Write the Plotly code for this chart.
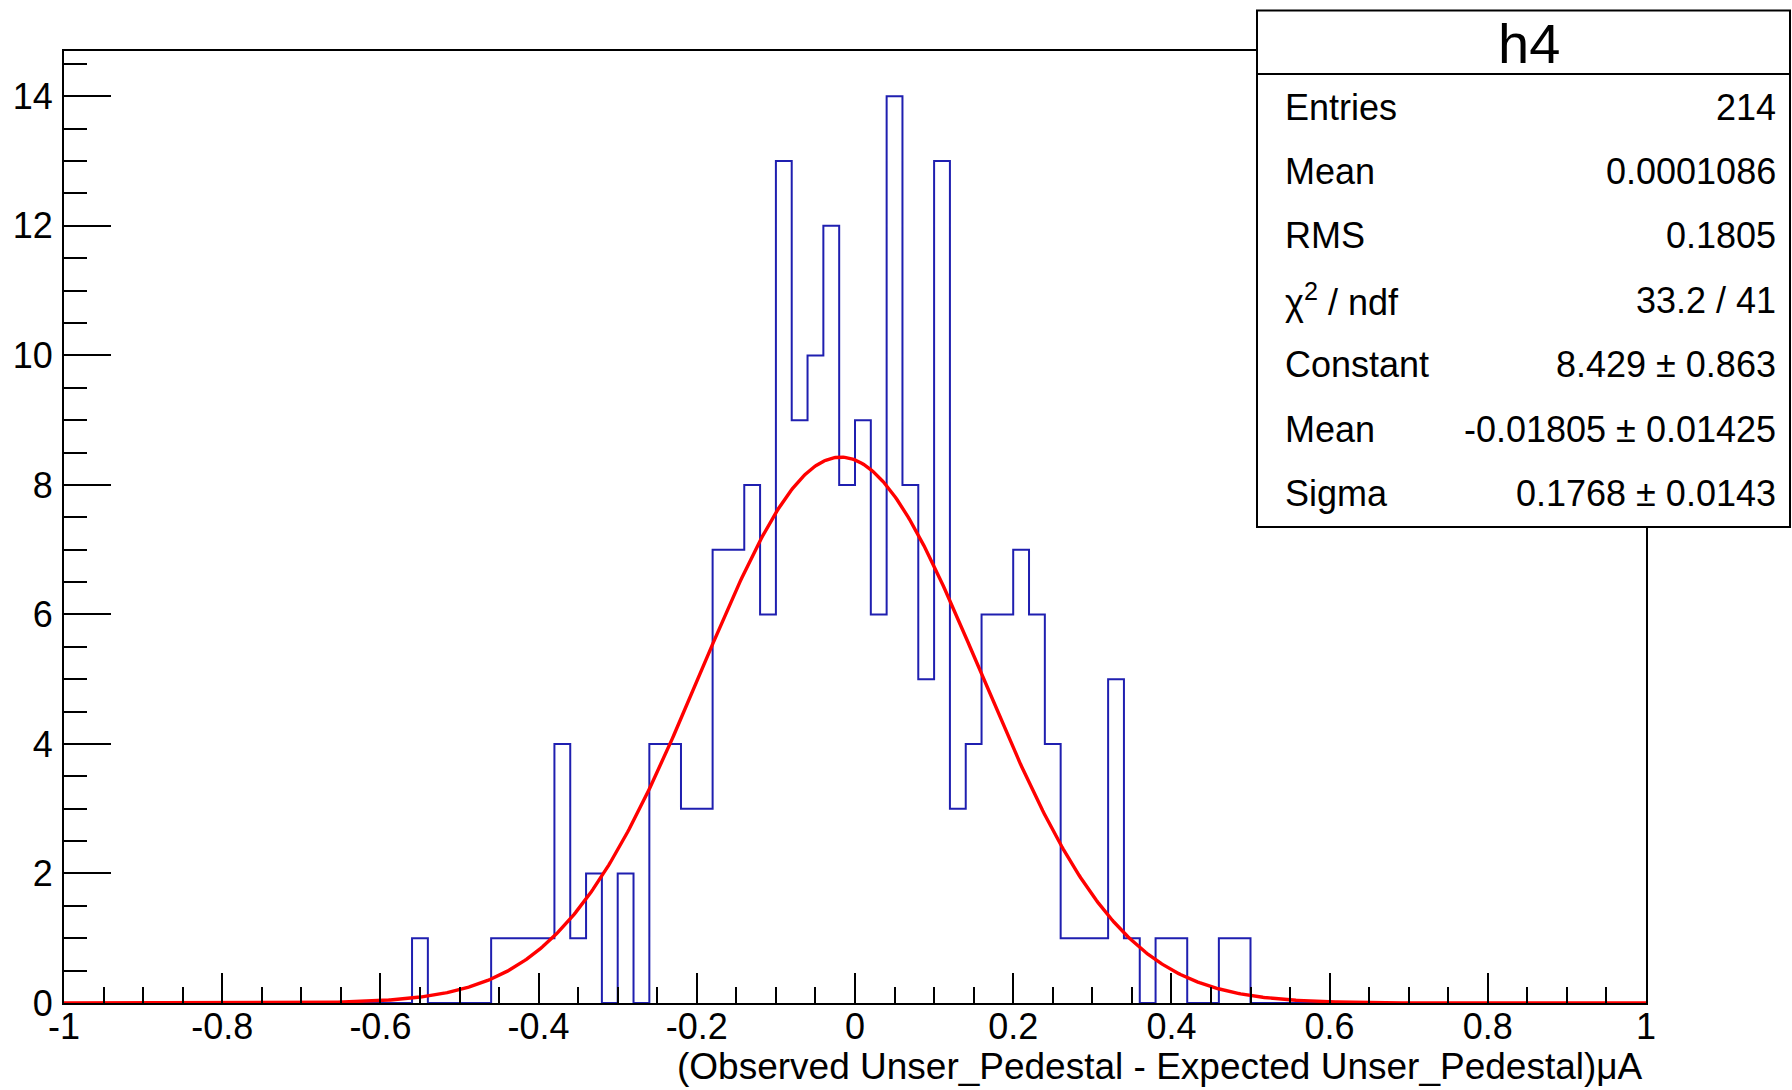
import numpy as np
import plotly.graph_objects as go

# ---------------- data ----------------
bin_lo, bin_hi, n_bins = -1.0, 1.0, 100
counts = [
    0, 0, 0, 0, 0, 0, 0, 0, 0, 0,
    0, 0, 0, 0, 0, 0, 0, 0, 0, 0,
    0, 0, 1, 0, 0, 0, 0, 1, 1, 1,
    1, 4, 1, 2, 0, 2, 0, 4, 4, 3,
    3, 7, 7, 8, 6, 13, 9, 10, 12, 8,
    9, 6, 14, 8, 5, 13, 3, 4, 6, 6,
    7, 6, 4, 1, 1, 1, 5, 1, 0, 1,
    1, 0, 0, 1, 1, 0, 0, 0, 0, 0,
    0, 0, 0, 0, 0, 0, 0, 0, 0, 0,
    0, 0, 0, 0, 0, 0, 0, 0, 0, 0,
]
# Gaussian fit parameters (as printed in the stats box)
fit_constant = 8.429
fit_mean = -0.01805
fit_sigma = 0.1768

x_tickvals = [-1, -0.8, -0.6, -0.4, -0.2, 0, 0.2, 0.4, 0.6, 0.8, 1]
x_ticktext = ["-1", "-0.8", "-0.6", "-0.4", "-0.2", "0", "0.2", "0.4", "0.6", "0.8", "1"]
y_tickvals = [0, 2, 4, 6, 8, 10, 12, 14]

stats_title = "h4"
stats_labels = ["Entries", "Mean", "RMS", "\u03c7<sup>2</sup> / ndf", "Constant", "Mean", "Sigma"]
stats_values = ["214", "0.0001086", "0.1805", "33.2 / 41",
                "8.429 \u00b1 0.863", "-0.01805 \u00b1 0.01425", "0.1768 \u00b1 0.0143"]
x_title = "(Observed Unser_Pedestal - Expected Unser_Pedestal)\u03bcA"

# ---------------- layout geometry (pixels) ----------------
W, H = 1792, 1090
L, R, T, B = 64, 1646, 51, 1003
pw, ph = R - L, B - T


def px(xp):
    return (xp - L) / pw


def py(yp):
    return (B - yp) / ph


FONT = "Liberation Sans, Arial, Helvetica, sans-serif"
TICK_SIZE = 36
STAT_SIZE = 36

edges = np.linspace(bin_lo, bin_hi, n_bins + 1)
step_x = list(edges)
step_y = list(counts) + [counts[-1]]

fx = np.linspace(bin_lo, bin_hi, 1000)
fy = fit_constant * np.exp(-0.5 * ((fx - fit_mean) / fit_sigma) ** 2)

fig = go.Figure()
fig.add_trace(go.Scatter(x=step_x, y=step_y, mode="lines", line_shape="hv",
                         line=dict(color="#1f1fb0", width=2), hoverinfo="skip"))
fig.add_trace(go.Scatter(x=fx, y=fy, mode="lines",
                         line=dict(color="#ff0000", width=3.4), hoverinfo="skip"))

fig.update_layout(
    width=W, height=H,
    margin=dict(l=L, r=W - R, t=T, b=H - B, pad=0),
    paper_bgcolor="white", plot_bgcolor="white",
    showlegend=False,
    font=dict(family=FONT, color="black"),
)
fig.update_xaxes(
    range=[bin_lo, bin_hi], showgrid=False, zeroline=False,
    showline=True, linecolor="black", linewidth=2, mirror=True,
    ticks="inside", ticklen=30, tickwidth=1.5, tickcolor="black",
    tickvals=x_tickvals, ticktext=x_ticktext,
    tickfont=dict(family=FONT, size=TICK_SIZE, color="black"),
    ticklabelstandoff=-9,
    minor=dict(ticks="inside", ticklen=16, tickwidth=1.5, tickcolor="black",
               dtick=0.05, tick0=0, showgrid=False),
)
fig.update_yaxes(
    range=[0, 14.7], showgrid=False, zeroline=False,
    showline=True, linecolor="black", linewidth=2, mirror=True,
    ticks="inside", ticklen=47, tickwidth=1.5, tickcolor="black",
    tickvals=y_tickvals,
    tickfont=dict(family=FONT, size=TICK_SIZE, color="black"),
    ticklabelstandoff=2,
    minor=dict(ticks="inside", ticklen=23, tickwidth=1.5, tickcolor="black",
               dtick=0.5, tick0=0, showgrid=False),
)

# stats box
bx0, bx1, by0, by1, bdiv = 1257, 1790, 10.5, 527, 74
fig.add_shape(type="rect", xref="paper", yref="paper",
              x0=px(bx0), x1=px(bx1), y0=py(by1), y1=py(by0),
              fillcolor="white", line=dict(color="black", width=2), layer="above")
fig.add_shape(type="line", xref="paper", yref="paper",
              x0=px(bx0), x1=px(bx1), y0=py(bdiv), y1=py(bdiv),
              line=dict(color="black", width=2), layer="above")
fig.add_annotation(xref="paper", yref="paper", x=px(1529), y=py(43),
                   text=stats_title, showarrow=False, xanchor="center", yanchor="middle",
                   font=dict(family=FONT, size=56, color="black"))
row0, drow = 107, 64.4
for i, (lab, val) in enumerate(zip(stats_labels, stats_values)):
    yc = row0 + i * drow
    fig.add_annotation(xref="paper", yref="paper", x=px(1283), y=py(yc), text=lab,
                       showarrow=False, xanchor="left", yanchor="middle",
                       font=dict(family=FONT, size=STAT_SIZE, color="black"))
    fig.add_annotation(xref="paper", yref="paper", x=px(1778), y=py(yc), text=val,
                       showarrow=False, xanchor="right", yanchor="middle",
                       font=dict(family=FONT, size=STAT_SIZE, color="black"))

# x axis title
fig.add_annotation(xref="paper", yref="paper", x=px(1645), y=py(1066), text=x_title,
                   showarrow=False, xanchor="right", yanchor="middle",
                   font=dict(family=FONT, size=37, color="black"))

fig.write_html("out.html")
